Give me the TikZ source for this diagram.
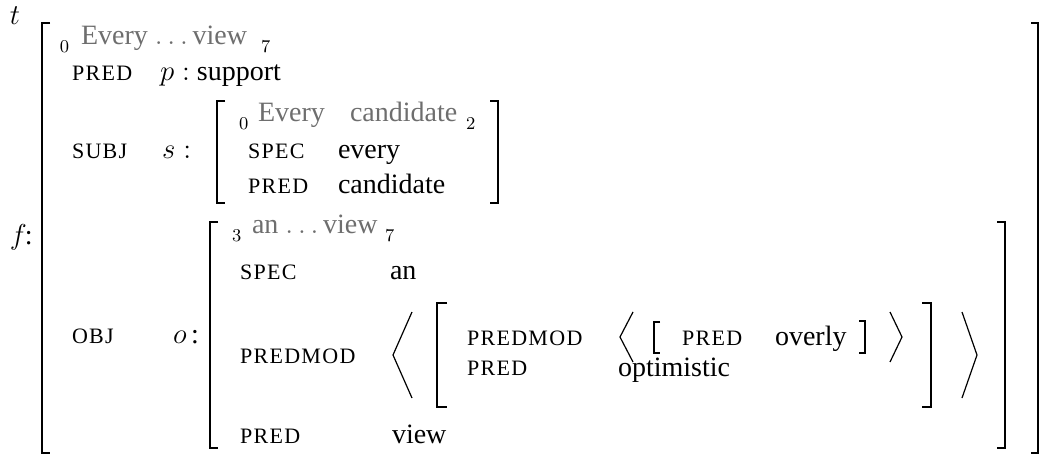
\documentclass[tikz,border=0pt]{standalone}
\usepackage[no-math]{fontspec}
\setmainfont{Liberation Serif}
\newfontfamily\labfont[LetterSpace=6]{Liberation Serif}
\definecolor{txtgray}{HTML}{6E6E6E}
\begin{document}
\begin{tikzpicture}[x=0.5pt,y=-0.5pt]
\tikzset{
 every node/.style={inner sep=0pt, outer sep=0pt, anchor=base west},
 lab/.style={font=\labfont\fontsize{11}{13}\selectfont},
 val/.style={font=\fontsize{14}{16}\selectfont},
 gry/.style={val, text=txtgray},
 sub/.style={font=\fontsize{9}{10}\selectfont},
 brk/.style={line width=1pt, line cap=butt, line join=miter},
 sbrk/.style={line width=0.55pt, line join=miter},
 ang/.style={line width=0.6pt, line join=miter},
}
\useasboundingbox (0,0) rectangle (1040,455);
% labels at the left
\node[val] (t) at (10,25) {$t$};
\node[val] (f) at (10,244) {$f$\kern-1pt:};
% outer matrix
\draw[brk] (50,23) -- (42,23) -- (42,453) -- (50,453);
\draw[brk] (1031,23) -- (1038,23) -- (1038,453) -- (1031,453);
\node[sub] (s0a) at (60,52) {$0$};
\node[gry] (g1) at (81,45) {Every~$\ldots$\,view};
\node[sub] (s7a) at (261,52) {$7$};
\node[lab] (pred1) at (72,80) {PRED};
\node[val] (pv) at (160,80) {$p:$ support};
% SUBJ
\node[lab] (subj) at (72,158) {SUBJ};
\node[val] (sv) at (162,158) {$s:$};
\draw[brk] (225,101) -- (217,101) -- (217,203) -- (225,203);
\draw[brk] (490,101) -- (498,101) -- (498,203) -- (490,203);
\node[sub] (s0b) at (239,129) {$0$};
\node[gry] (g2a) at (258,121) {Every};
\node[gry] (g2b) at (350,121) {candidate};
\node[sub] (s2b) at (466,129) {$2$};
\node[lab] (spec1) at (248,158) {SPEC};
\node[val] (every) at (338,158) {every};
\node[lab] (pred2) at (248,193) {PRED};
\node[val] (cand) at (338,193) {candidate};
% OBJ
\node[lab] (obj) at (72,343) {OBJ};
\node[val] (ov) at (173,343) {$o$\,:};
\draw[brk] (218,222) -- (210,222) -- (210,448) -- (218,448);
\draw[brk] (997,222) -- (1005,222) -- (1005,448) -- (997,448);
\node[sub] (s3c) at (232,241) {$3$};
\node[gry] (g3) at (252,233) {an~$\ldots$\,view};
\node[sub] (s7c) at (385,241) {$7$};
\node[lab] (spec2) at (240,279) {SPEC};
\node[val] (an) at (390,279) {an};
\node[lab] (pm1) at (240,363) {PREDMOD};
\draw[ang] (412,312) -- (393,355) -- (412,398);
\draw[brk] (447,303) -- (437,303) -- (437,407) -- (447,407);
\node[lab] (pm2) at (467,345) {PREDMOD};
\node[lab] (pred3) at (467,375) {PRED};
\draw[ang] (633,312) -- (620,337) -- (633,362);
\draw[sbrk] (660,322) -- (654,322) -- (654,353) -- (660,353);
\node[lab] (pred4) at (682,345) {PRED};
\node[val] (overly) at (775,345) {overly};
\draw[sbrk] (859,321) -- (865,321) -- (865,353) -- (859,353);
\draw[ang] (890,312) -- (902,337) -- (890,362);
\node[val] (opt) at (618,376) {optimistic};
\draw[brk] (922,303) -- (931,303) -- (931,407) -- (922,407);
\draw[ang] (962,312) -- (977,355) -- (962,398);
\node[lab] (pred5) at (240,443) {PRED};
\node[val] (view) at (392,443) {view};
\end{tikzpicture}
\end{document}
